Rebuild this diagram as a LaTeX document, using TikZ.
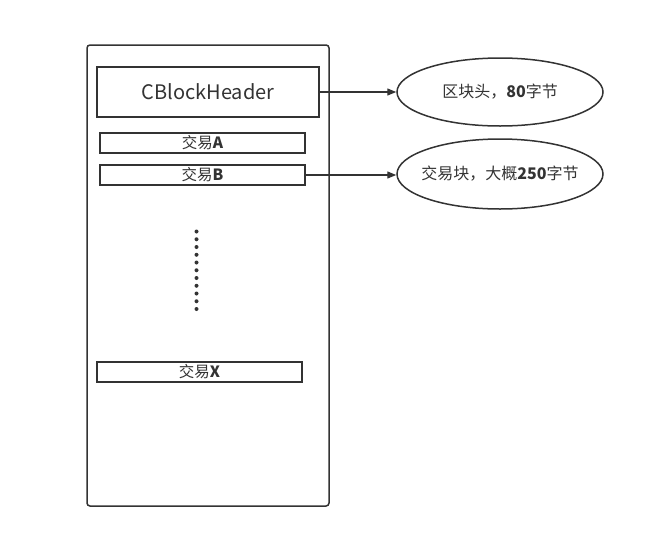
\documentclass[tikz,border=0pt]{standalone}
\usepackage{fontspec}
\setmainfont{Noto Sans CJK SC}
\usetikzlibrary{arrows.meta,shapes.geometric}
\definecolor{ink}{HTML}{333333}
\begin{document}
\begin{tikzpicture}[x=1pt,y=-1pt,
  box/.style={draw=ink,line width=1.8pt,inner sep=0pt,text=ink},
  oval/.style={draw=ink,line width=1.5pt,ellipse,inner sep=0pt,minimum width=206pt,minimum height=68pt},
  ovaltext/.style={font=\fontsize{16}{18}\selectfont,text=ink,inner sep=0pt},
  conn/.style={draw=ink,line width=1.3pt,-{Triangle[length=9pt,width=7pt]}}]
\useasboundingbox (0,0) rectangle (647,536);
\node[draw=ink,line width=1.5pt,rounded corners=3pt,minimum width=242pt,minimum height=461pt,inner sep=0pt] (outer) at (208,275.5) {};
\node[box,minimum width=222pt,minimum height=50pt,font=\fontsize{20}{24}\selectfont] (hdr) at (208,92) {CBlockHeader};
\node[box,minimum width=205pt,minimum height=20pt,font=\fontsize{15.5}{17}\selectfont] (ta) at (202.5,143) {交易\textbf{A}};
\node[box,minimum width=205pt,minimum height=20pt,font=\fontsize{15.5}{17}\selectfont] (tb) at (202.5,175) {交易\textbf{B}};
\node[box,minimum width=205pt,minimum height=20pt,font=\fontsize{15.5}{17}\selectfont] (tx) at (199.5,372) {交易\textbf{X}};
\foreach \i in {0,...,10} {
  \fill[ink] (196.5,{231.5+7.75*\i}) circle (2pt);
}
\node[oval] (e1) at (500,92) {};
\node[ovaltext] (e1t) at (e1.center) {区块头，\textbf{80}字节};
\node[oval,minimum height=70pt] (e2) at (500,174) {};
\node[ovaltext] (e2t) at (e2.center) {交易块，大概\textbf{250}字节};
\draw[conn] (hdr.east) -- (e1.west);
\draw[conn] (tb.east) -- (e2.west |- tb.east);
\end{tikzpicture}
\end{document}
